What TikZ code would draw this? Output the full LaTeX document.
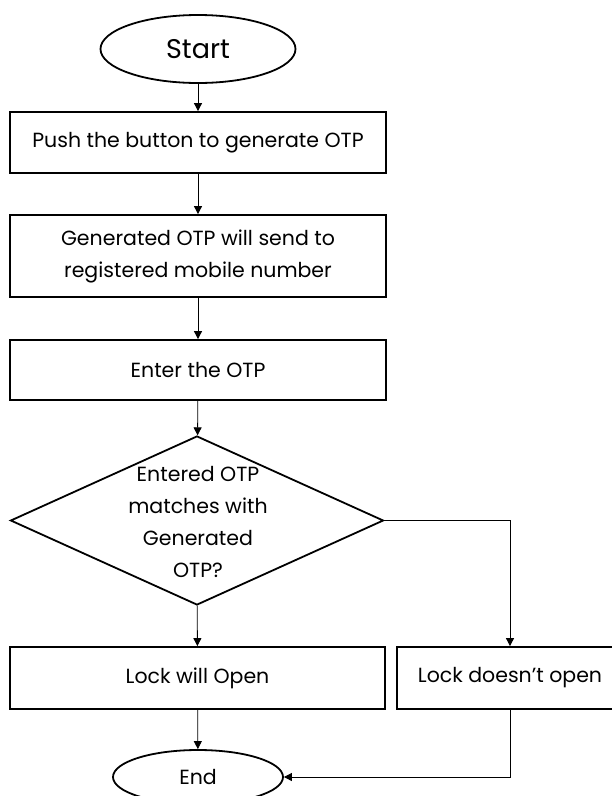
\documentclass[tikz,border=0pt]{standalone}
\usepackage{fontspec}
\setmainfont{Poppins}
\usetikzlibrary{arrows.meta, shapes.geometric}

\begin{document}
\begin{tikzpicture}[x=1pt, y=-1pt,
  box/.style={draw, line width=1.8pt, inner sep=0pt, align=center},
  oval/.style={ellipse, draw, line width=1.8pt, inner sep=0pt},
  flow/.style={->, line width=0.8pt},
  >={Triangle[length=8pt, width=8pt]},
  font=\fontsize{20.5}{32}\selectfont]
\clip (0,0) rectangle (612,796);
\node[oval, minimum width=195, minimum height=68, font=\fontsize{27}{30}\selectfont] (start) at (198,49) {Start};
\node[box, minimum width=376, minimum height=61] (push) at (198,142.5) {Push the button to generate OTP};
\node[box, minimum width=376, minimum height=82] (send) at (198,256) {Generated OTP will send to\\registered mobile number};
\node[box, minimum width=376, minimum height=60] (enter) at (198,370) {Enter the OTP};
\node[diamond, draw, line width=1.8pt, inner sep=0pt, minimum width=373, minimum height=169] (check) at (197,520.5) {};
\node[align=center] (checktext) at (198,522) {Entered OTP\\matches with\\Generated\\OTP?};
\node[box, minimum width=375, minimum height=62] (open) at (197.5,678) {Lock will Open};
\node[box, minimum width=226, minimum height=62] (noopen) at (510,678) {Lock doesn't open};
\node[oval, minimum width=170, minimum height=54] (end) at (198,777) {End};
\draw[flow] (start) -- (push);
\draw[flow] (push) -- (send);
\draw[flow] (send) -- (enter);
\draw[flow] (enter) -- (check);
\draw[flow] (check) -- (open);
\draw[flow] (check.east) -| (noopen.north);
\draw[flow] (open) -- (end);
\draw[flow] (noopen.south) |- (end.east);
\end{tikzpicture}
\end{document}
